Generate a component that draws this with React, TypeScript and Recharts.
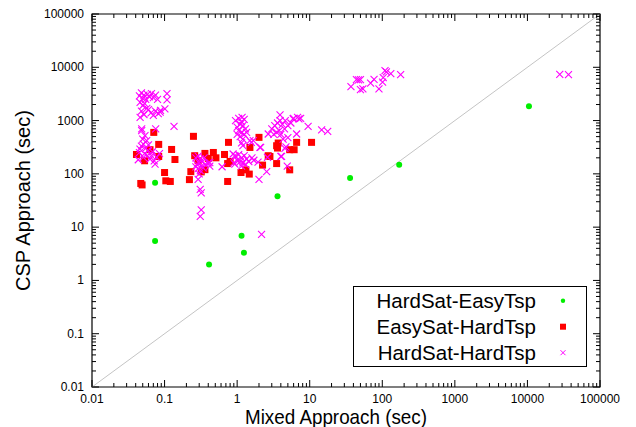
import React from 'react';
import { ScatterChart, Scatter, XAxis, YAxis, ReferenceLine, ReferenceArea, Legend } from 'recharts';

type Pt = { x: number; y: number };
const pts = (rows: number[][]): Pt[] => rows.map(([x, y]) => ({ x, y }));

// axis decades
const MAJOR_TICKS = [0.01, 0.1, 1, 10, 100, 1000, 10000, 100000];

const SERIES_NAMES = ['HardSat-EasyTsp', 'EasySat-HardTsp', 'HardSat-HardTsp'];

// HardSat-EasyTsp
const hardSatEasyTsp = pts([
  [0.074, 68], [0.074, 5.5], [0.41, 2.0], [1.15, 6.9], [1.24, 3.3],
  [3.6, 38], [36, 84], [171, 148], [10500, 1860],
]);

// EasySat-HardTsp
const easySatHardTsp = pts([
  [0.071, 600], [0.083, 357], [0.125, 287], [0.063, 284], [0.041, 231], [0.083, 212],
  [0.139, 186], [0.053, 176], [0.25, 506], [0.26, 219], [0.36, 242], [0.40, 195],
  [0.47, 252], [0.51, 200], [0.67, 231], [0.76, 390], [0.74, 156], [0.80, 171],
  [0.10, 106], [0.23, 110], [0.36, 120], [0.32, 109], [0.104, 74], [0.12, 72],
  [0.22, 78], [0.74, 72], [0.047, 66], [0.049, 62], [1.5, 313], [2.0, 484],
  [0.29, 176], [1.13, 106], [1.32, 119], [1.47, 99], [2.24, 146], [2.68, 219],
  [3.68, 379], [3.5, 337], [3.6, 305], [5.3, 284], [6.1, 284], [6.6, 390],
  [2.83, 212], [3.5, 156], [5.3, 119], [10.6, 390],
]);

// HardSat-HardTsp
const hardSatHardTsp = pts([
  // ~0.05 s, upper group
  [0.045, 2900], [0.048, 3300], [0.050, 2600], [0.052, 3000], [0.055, 2500], [0.058, 3100],
  [0.062, 2800], [0.066, 3200], [0.070, 2700], [0.075, 3000], [0.080, 2500], [0.046, 2200],
  [0.050, 1900], [0.053, 2100], [0.057, 1700], [0.048, 1500], [0.052, 1300], [0.060, 1600],
  [0.065, 1400], [0.070, 1250], [0.075, 1500], [0.082, 1350], [0.088, 1550], [0.046, 1150],
  [0.108, 3200], [0.108, 2450], [0.101, 1660], [0.087, 1440], [0.135, 780],
  // ~0.05 s, lower group
  [0.0484, 697], [0.0754, 697], [0.0537, 521], [0.0567, 420], [0.051, 363], [0.0458, 292],
  [0.0596, 272], [0.066, 219], [0.051, 203], [0.074, 152], [0.078, 203], [0.0434, 184],
  [0.0484, 650], [0.072, 176], [0.050, 450], [0.055, 300], [0.060, 350], [0.045, 250],
  [0.053, 240], [0.063, 190], [0.058, 220], [0.048, 330], [0.068, 260], [0.085, 240],
  // ~0.3 s
  [0.27, 200], [0.29, 215], [0.31, 190], [0.33, 170], [0.35, 200], [0.30, 160],
  [0.28, 150], [0.32, 140], [0.34, 130], [0.29, 125], [0.31, 115], [0.36, 150],
  [0.40, 160], [0.42, 140], [0.27, 135], [0.30, 100], [0.29, 79], [0.31, 51],
  [0.32, 44], [0.32, 21], [0.31, 16], [0.42, 163], [0.62, 136], [0.88, 236],
  // ~1 s, upper
  [0.95, 1000], [1.05, 1100], [1.15, 950], [1.25, 1050], [1.1, 850], [1.0, 750],
  [1.2, 800], [1.3, 700], [1.05, 650], [1.15, 600], [1.25, 550], [1.1, 500],
  [1.2, 450], [1.0, 550], [1.35, 600], [1.15, 380], [1.2, 340], [1.5, 420],
  [1.67, 420], [1.17, 1150], [2.06, 313],
  // ~1 s, lower
  [0.95, 210], [1.05, 230], [1.15, 200], [1.25, 220], [1.35, 190], [1.1, 170],
  [1.2, 160], [1.3, 150], [1.0, 180], [1.45, 170], [1.6, 200], [1.15, 140],
  [0.9, 160], [1.7, 180], [0.93, 152], [1.94, 166], [0.93, 219],
  // ~4 s
  [3.0, 700], [3.3, 800], [3.6, 900], [3.9, 1000], [4.2, 850], [3.5, 600],
  [3.8, 650], [4.5, 700], [4.0, 550], [3.2, 550], [5.0, 800], [5.5, 900],
  [6.0, 1100], [6.8, 1150], [7.5, 1100], [4.6, 1000], [3.9, 1280], [5.9, 1080],
  [7.1, 1080], [6.6, 560], [2.68, 560], [5.0, 480], [4.3, 450],
  // scattered
  [9.5, 780], [14.6, 668], [17.7, 628], [4.55, 300], [4.1, 212], [4.9, 140],
  [2.11, 313], [4.0, 212], [2.0, 79], [2.55, 110], [2.62, 205], [1.57, 390],
  [4.7, 320], [2.17, 7.3],
  // long runs
  [37, 4330], [44, 5860], [47, 5800], [50, 5860], [50, 3800], [54, 3950],
  [69, 5060], [77, 5940], [90, 3950], [101, 5290], [103, 6400], [109, 8670],
  [114, 8170], [131, 7600], [179, 7300], [27900, 7380], [36800, 7300],
]);

const MINOR_TICKS = MAJOR_TICKS.slice(0, -1).flatMap((d) => [2, 3, 4, 5, 6, 7, 8, 9].map((k) => d * k));
const ALL_TICKS = [...MAJOR_TICKS, ...MINOR_TICKS].sort((a, b) => a - b);

const W = 628;
const H = 419;
const M = { top: 6, right: 36, bottom: 0, left: 0 };
const Y_W = 84;
const X_H = 40;
const PLOT_W = W - M.left - M.right - Y_W;
const PLOT_H = H - M.top - M.bottom - X_H;
const FONT = '"Liberation Sans", Arial, Helvetica, sans-serif';

const isMajor = (v: number) => MAJOR_TICKS.includes(v);

const XTick = (props: any) => {
  const { x, y, payload } = props;
  const len = isMajor(payload.value) ? 7 : 4;
  return (
    <g>
      <line x1={x} x2={x} y1={y} y2={y - len} stroke="#000" />
      <line x1={x} x2={x} y1={y - PLOT_H} y2={y - PLOT_H + len} stroke="#000" />
      {isMajor(payload.value) && (
        <text x={x} y={y + 16} textAnchor="middle" fontSize={12} fontFamily={FONT} fill="#000">
          {String(payload.value)}
        </text>
      )}
    </g>
  );
};

const YTick = (props: any) => {
  const { x, y, payload } = props;
  const len = isMajor(payload.value) ? 7 : 4;
  return (
    <g>
      <line x1={x} x2={x + len} y1={y} y2={y} stroke="#000" />
      <line x1={x + PLOT_W} x2={x + PLOT_W - len} y1={y} y2={y} stroke="#000" />
      {isMajor(payload.value) && (
        <text x={x - 8} y={y + 4} textAnchor="end" fontSize={12} fontFamily={FONT} fill="#000">
          {String(payload.value)}
        </text>
      )}
    </g>
  );
};

const Dot = (p: any) => <circle cx={p.cx} cy={p.cy} r={3} fill="#00ee00" />;
const Square = (p: any) => <rect x={p.cx - 3.5} y={p.cy - 3.5} width={7} height={7} fill="#ff0000" />;
const XMark = (p: any) => {
  const s = 3.5;
  return (
    <path
      d={`M${p.cx - s},${p.cy - s}L${p.cx + s},${p.cy + s}M${p.cx - s},${p.cy + s}L${p.cx + s},${p.cy - s}`}
      stroke="#ff00ff"
      strokeWidth={1.1}
      fill="none"
    />
  );
};

const legendSymbol = (i: number, cx: number, cy: number) => {
  if (i === 0) return <circle cx={cx} cy={cy} r={2.2} fill="#00ee00" />;
  if (i === 1) return <rect x={cx - 3} y={cy - 3} width={6} height={6} fill="#ff0000" />;
  return (
    <path d={`M${cx - 2.5},${cy - 2.5}L${cx + 2.5},${cy + 2.5}M${cx - 2.5},${cy + 2.5}L${cx + 2.5},${cy - 2.5}`} stroke="#ff00ff" strokeWidth={1} />
  );
};

// keeps the series order of the original key
const LegendBox = () => (
  <svg width={235} height={82} style={{ display: 'block' }}>
    <rect x={0.5} y={0.5} width={233} height={80} fill="#fff" stroke="#000" />
    {SERIES_NAMES.map((name, i) => (
      <g key={name}>
        <text x={183} y={14.7 + i * 26 + 7.5} textAnchor="end" fontSize={20.5} fontFamily={FONT} fill="#000">
          {name}
        </text>
        {legendSymbol(i, 210, 14.7 + i * 26)}
      </g>
    ))}
  </svg>
);

const App: React.FC = () => {
  return (
    <div style={{ width: W, height: H, fontFamily: FONT }}>
      <ScatterChart width={W} height={H} margin={M}>
        <XAxis
          type="number"
          dataKey="x"
          scale="log"
          domain={[0.01, 100000]}
          allowDataOverflow
          ticks={ALL_TICKS}
          interval={0}
          tick={<XTick />}
          tickSize={0}
          tickMargin={0}
          tickLine={false}
          axisLine={false}
          height={X_H}
          label={{
            content: (p: any) => (
              <text
                x={p.viewBox.x + p.viewBox.width / 2 - 10}
                y={p.viewBox.y + 37}
                textAnchor="middle"
                fontSize={21}
                textLength={182}
                lengthAdjust="spacingAndGlyphs"
                fontFamily={FONT}
                fill="#000"
              >
                Mixed Approach (sec)
              </text>
            ),
          }}
        />
        <YAxis
          type="number"
          dataKey="y"
          scale="log"
          domain={[0.01, 100000]}
          allowDataOverflow
          ticks={ALL_TICKS}
          interval={0}
          tick={<YTick />}
          tickSize={0}
          tickMargin={0}
          tickLine={false}
          axisLine={false}
          width={Y_W}
          label={{
            content: (p: any) => {
              const cy = p.viewBox.y + p.viewBox.height / 2;
              return (
                <text x={22} y={cy} transform={`rotate(-90 22 ${cy})`} textAnchor="middle" fontSize={20} fontFamily={FONT} fill="#000">
                  CSP Approach (sec)
                </text>
              );
            },
          }}
        />
        <ReferenceLine
          segment={[{ x: 0.01, y: 0.01 }, { x: 100000, y: 100000 }]}
          stroke="#c4c4c4"
          strokeWidth={1}
        />
        <Scatter name="HardSat-EasyTsp" data={hardSatEasyTsp} fill="#00ee00" shape={<Dot />} isAnimationActive={false} />
        <Scatter name="EasySat-HardTsp" data={easySatHardTsp} fill="#ff0000" shape={<Square />} isAnimationActive={false} />
        <Scatter name="HardSat-HardTsp" data={hardSatHardTsp} fill="#ff00ff" shape={<XMark />} isAnimationActive={false} />
        <ReferenceArea x1={0.01} x2={100000} y1={0.01} y2={100000} fill="none" fillOpacity={0} stroke="#000" strokeWidth={1.2} />
        <Legend
          layout="vertical"
          align="center"
          verticalAlign="middle"
          content={<LegendBox />}
          wrapperStyle={{ left: 345, top: 278, width: 235, height: 82 }}
        />
      </ScatterChart>
    </div>
  );
};

export default App;
